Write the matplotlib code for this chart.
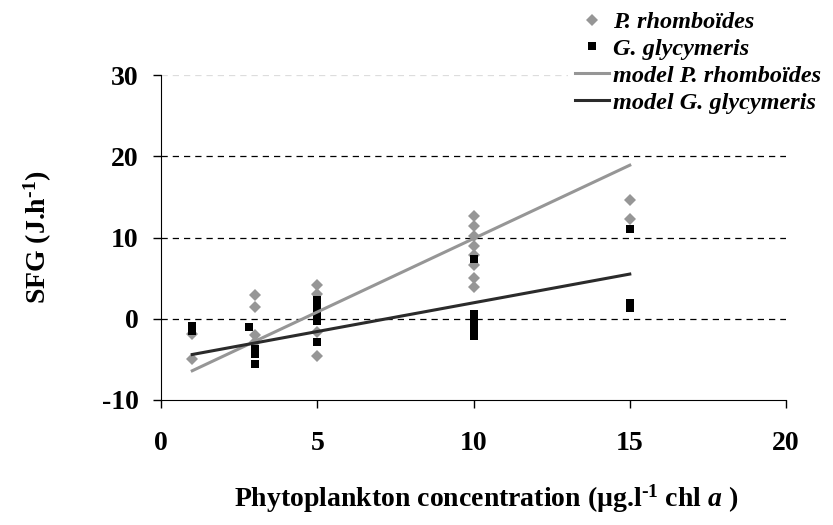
import matplotlib

matplotlib.use("Agg")
import matplotlib.pyplot as plt
from matplotlib.lines import Line2D

plt.rcParams["font.family"] = ["Liberation Serif", "DejaVu Serif"]
plt.rcParams["font.weight"] = "bold"
plt.rcParams["mathtext.fontset"] = "custom"
plt.rcParams["mathtext.rm"] = "Liberation Serif:bold"
plt.rcParams["mathtext.bf"] = "Liberation Serif:bold"
plt.rcParams["mathtext.it"] = "Liberation Serif:bold:italic"
plt.rcParams["axes.unicode_minus"] = False

# P. rhomboides observations (chl a, SFG)
pr_x = [1, 1,
        3, 3, 3, 3,
        5, 5, 5, 5,
        10, 10, 10, 10, 10, 10, 10, 10,
        15, 15]
pr_y = [-1.9, -4.9,
        2.9, 1.5, -2.0, -2.8,
        4.2, 3.0, -1.6, -4.6,
        12.7, 11.4, 10.2, 9.0, 7.9, 6.6, 5.0, 3.9,
        14.6, 12.3]

# G. glycymeris observations
gg_x = [1, 1,
        2.8,
        3, 3, 3,
        5, 5, 5, 5, 5, 5, 5,
        10, 10, 10, 10, 10, 10, 10, 10, 10,
        15, 15, 15]
gg_y = [-0.9, -1.5,
        -1.0,
        -3.7, -4.3, -5.6,
        2.3, 1.6, 1.0, 0.4, 0.0, -0.3, -2.8,
        7.4, 0.6, 0.2, -0.2, -0.6, -1.0, -1.4, -1.8, -2.1,
        11.1, 2.0, 1.3]

# fitted models
model_x = [1, 15]
model_pr = [-6.4, 18.9]
model_gg = [-4.4, 5.5]

grid_levels = [0, 10, 20]
grey = "#969696"
dark = "#2b2b2b"

fig = plt.figure(figsize=(8.33, 5.25), dpi=100)
ax = fig.add_axes([0.1933, 0.2381, 0.7503, 0.619])

ax.hlines(grid_levels, 0, 20, colors="black", linewidth=0.9, linestyles=(0, (5, 4)), zorder=1)
ax.hlines([30], 0, 20, colors="#dddddd", linewidth=0.9, linestyles=(0, (5, 4)), zorder=1)

ax.plot(pr_x, pr_y, "D", color=grey, markersize=6.5, markeredgewidth=0, zorder=3)
ax.plot(gg_x, gg_y, "s", color="black", markersize=5.5, markeredgewidth=0, zorder=4)
ax.plot(model_x, model_pr, color=grey, linewidth=2.2, zorder=5)
ax.plot(model_x, model_gg, color=dark, linewidth=2.2, zorder=6)

ax.set_xlim(0, 20)
ax.set_ylim(-10, 30)
ax.set_xticks([0, 5, 10, 15, 20])
ax.set_yticks([-10, 0, 10, 20, 30])
ax.spines["top"].set_visible(False)
ax.spines["right"].set_visible(False)
ax.tick_params(axis="both", direction="out", length=6, width=1, labelsize=20)
ax.tick_params(axis="x", pad=16)
ax.tick_params(axis="y", pad=10)

ax.set_ylabel("SFG (J.h$^{\u20101}$)", fontsize=20, fontweight="bold")
ax.yaxis.set_label_coords(-0.172, 0.5)
ax.set_xlabel("Phytoplankton concentration (µg.l$^{\u20101}$ chl $a$ )", fontsize=20, fontweight="bold")
ax.xaxis.set_label_coords(0.52, -0.255)

handles = [
    Line2D([], [], marker="D", linestyle="none", color=grey, markersize=6.5, markeredgewidth=0),
    Line2D([], [], marker="s", linestyle="none", color="black", markersize=5.5, markeredgewidth=0),
    Line2D([], [], color=grey, linewidth=2.2),
    Line2D([], [], color=dark, linewidth=2.2),
]
labels = ["P. rhomboïdes", "G. glycymeris", "model P. rhomboïdes", "model G. glycymeris"]
leg = fig.legend(handles, labels, loc="upper left", bbox_to_anchor=(0.667, 1.016),
                 frameon=True, fancybox=False, edgecolor="none", facecolor="white", framealpha=1,
                 handlelength=1.4, handletextpad=0.15, labelspacing=0.2, borderpad=0.3,
                 prop={"family": "Liberation Serif", "weight": "bold", "style": "italic", "size": 17.5})

fig.savefig("out.png", dpi=100)
